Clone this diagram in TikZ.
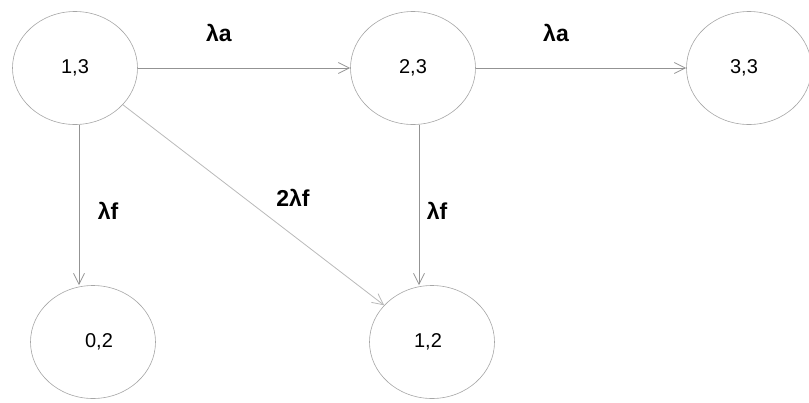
\documentclass[tikz,border=0pt]{standalone}
\usepackage{fontspec}
\setmainfont{Liberation Sans}
\usetikzlibrary{shapes.geometric,arrows.meta}
\begin{document}
\begin{tikzpicture}[x=1pt,y=-1pt,
  state/.style={draw=gray!70,line width=0.6pt,ellipse,minimum width=125pt,minimum height=113pt,inner sep=0pt,font=\fontsize{20}{24}\selectfont},
  edge/.style={draw=gray!85,line width=0.8pt,-{Straight Barb[length=11pt,width=11pt]}},
  diag/.style={edge,draw=gray!55},
  lbl/.style={font=\fontsize{23}{26}\selectfont\bfseries}]
\useasboundingbox (0,0) rectangle (809,402);
\node[state] (s13) at (75,68) {1,3};
\node[state] (s23) at (413,68) {2,3};
\node[state] (s33) at (749,68) {\hspace{-10pt}3,3};
\node[state] (s02) at (93,342) {\hspace{12pt}0,2};
\node[state] (s12) at (432,342) {\hspace{-8pt}1,2};
\draw[edge] (s13) -- (s23);
\draw[edge] (s23) -- (s33);
\draw[edge] (s13.south -| 79,0) -- (s02.north -| 79,0);
\draw[edge] (s23.south -| 419,0) -- (s12.north -| 419,0);
\draw[diag] (s13) -- (s12);
\node[lbl] (l1) at (219,33) {λa};
\node[lbl] (l2) at (556,33) {λa};
\node[lbl] (l3) at (108,211) {λf};
\node[lbl] (l4) at (437,211) {λf};
\node[lbl] (l5) at (293,198) {2λf};
\end{tikzpicture}
\end{document}
